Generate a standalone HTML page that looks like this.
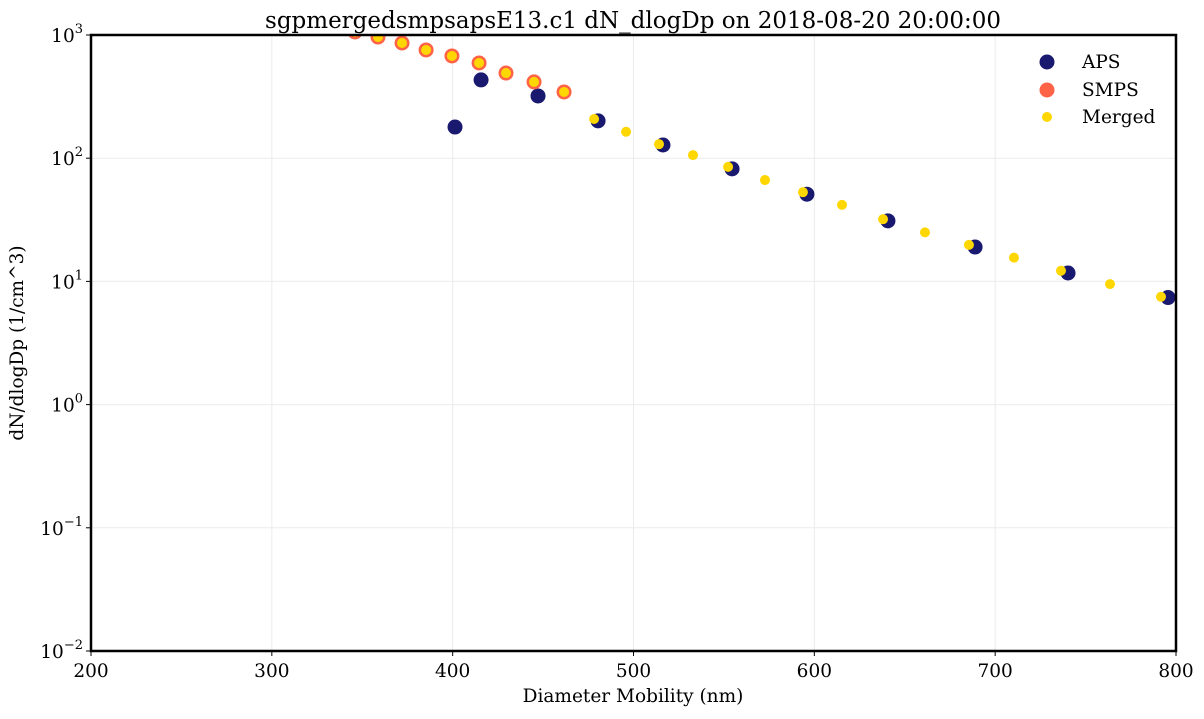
<!DOCTYPE html>
<html><head><meta charset="utf-8"><style>
body{margin:0;background:#fff;font-family:"DejaVu Serif","Liberation Serif",serif;}
</style></head><body>
<svg id="c" width="1204" height="715" xmlns="http://www.w3.org/2000/svg" font-family="DejaVu Serif, Liberation Serif, serif"></svg>
<script>
const xTicks=[200,300,400,500,600,700,800];
const yExps=[-2,-1,0,1,2,3];
const smpsX=[346,358.7,372,385.3,399.6,414.6,429.5,445,461.6];
const smpsY=[1058,963,861,756,676,593,491,416,345];
const mergedX=[346,358.7,372,385.3,399.6,414.6,429.5,445,461.6,478.2,495.9,514.1,532.9,552.3,572.7,593.7,615.3,638,661.2,685.5,710.4,736.4,763.5,791.7];
const mergedY=[1058,963,861,756,676,593,491,416,345,208,164,130,106,85,66.5,53,41.8,32,25,19.8,15.6,12.2,9.5,7.5];
const apsX=[401.3,415.7,447.2,480.4,516.3,554.5,595.9,640.7,688.9,740.3,795.6];
const apsY=[179,432,320,201,128,82,51,31,19,11.7,7.4];
const L=91,R=1176,T=35,B=651;
const sx=v=>L+(v-200)/600*(R-L);
const sy=v=>T+(3-Math.log10(v))/5*(B-T);
const svg=document.getElementById('c');
const NS='http://www.w3.org/2000/svg';
function mk(t,a,p){const e=document.createElementNS(NS,t);for(const k in a)e.setAttribute(k,a[k]);(p||svg).appendChild(e);return e;}
const defs=mk('defs',{});const cp=mk('clipPath',{id:'pc'},defs);mk('rect',{x:L,y:T,width:R-L,height:B-T},cp);
xTicks.forEach(t=>{const g=mk('line',{x1:sx(t),x2:sx(t),y1:T,y2:B,stroke:'#ebebeb','stroke-width':1});


mk('line',{x1:sx(t),x2:sx(t),y1:B,y2:B+5,stroke:'#000'});
const tx=mk('text',{x:sx(t),y:B+26,'text-anchor':'middle','font-size':18.5});tx.textContent=t;

});
yExps.forEach(e=>{const y=sy(Math.pow(10,e));const g=mk('line',{x1:L,x2:R,y1:y,y2:y,stroke:'#ebebeb','stroke-width':1});


mk('line',{x1:L-5,x2:L,y1:y,y2:y,stroke:'#000'});
const tx=mk('text',{x:L-8,y:y+7,'text-anchor':'end','font-size':18.5});tx.innerHTML='10<tspan dy="-9" font-size="13">'+e.toString().replace('-','\u2212')+'</tspan>';

});
const gp=mk('g',{'clip-path':'url(#pc)'});
apsX.forEach((x,i)=>{const c=mk('circle',{cx:sx(x),cy:sy(apsY[i]),r:7.5,fill:'#191970'},gp);

});
smpsX.forEach((x,i)=>{const c=mk('circle',{cx:sx(x),cy:sy(smpsY[i]),r:7.5,fill:'#ff6347'},gp);

});
mergedX.forEach((x,i)=>{const c=mk('circle',{cx:sx(x),cy:sy(mergedY[i]),r:5,fill:'#ffd700'},gp);

});
const fr=mk('rect',{x:L,y:T,width:R-L,height:B-T,fill:'none',stroke:'#000','stroke-width':2.5});


const ti=mk('text',{x:633,y:28,'text-anchor':'middle','font-size':23});ti.textContent='sgpmergedsmpsapsE13.c1 dN_dlogDp on 2018-08-20 20:00:00';


const xl=mk('text',{x:633,y:702,'text-anchor':'middle','font-size':18.5});xl.textContent='Diameter Mobility (nm)';


const yl=mk('text',{x:0,y:0,'text-anchor':'middle','font-size':18.5,transform:'translate(23,343) rotate(-90)'});yl.textContent='dN/dlogDp (1/cm^3)';


[['APS','#191970',7.5,62],['SMPS','#ff6347',7.5,90],['Merged','#ffd700',5,117]].forEach(l=>{
const g=mk('g',{});


mk('circle',{cx:1047,cy:l[3],r:l[2],fill:l[1]},g);
const t=mk('text',{x:1082,y:l[3]+6,'font-size':18.5},g);t.textContent=l[0];});
</script>
</body></html>
